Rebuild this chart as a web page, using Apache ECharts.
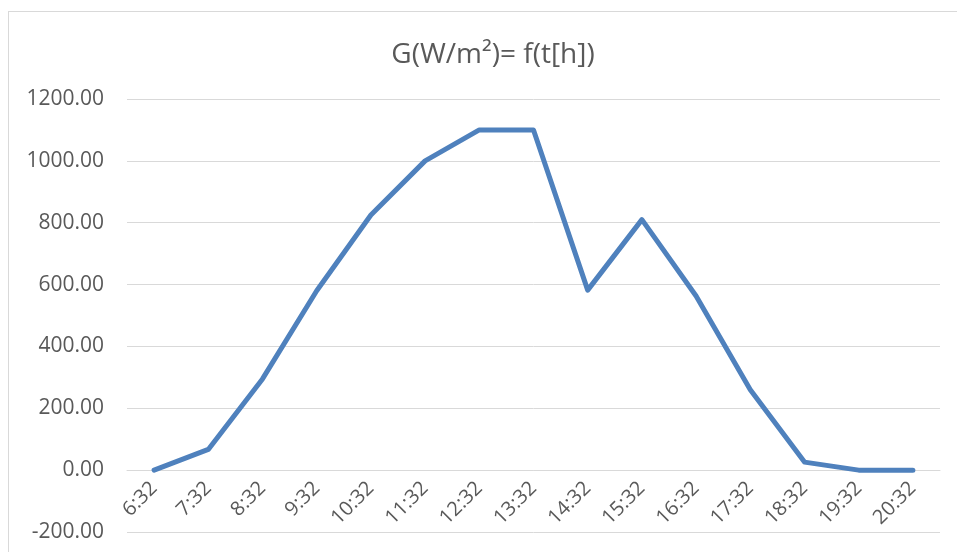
<!DOCTYPE html>
<html>
<head>
<meta charset="utf-8">
<script src="https://cdn.jsdelivr.net/npm/echarts@6/dist/echarts.min.js"></script>
<style>
  html, body { margin: 0; padding: 0; background: #fff; }
  #frame { position: absolute; left: 8px; top: 11px; width: 960px; height: 560px; border: 1px solid #d9d9d9; box-sizing: border-box; }
  #chart { position: absolute; left: 0; top: 0; width: 957px; height: 552px; }
</style>
</head>
<body>
<div id="frame"></div>
<div id="chart"></div>
<script>
// Hourly irradiance readings
const times = ['6:32', '7:32', '8:32', '9:32', '10:32', '11:32', '12:32', '13:32', '14:32', '15:32', '16:32', '17:32', '18:32', '19:32', '20:32'];
const irradiance = [0, 67, 295, 580, 825, 1000, 1100, 1100, 582, 810, 563, 260, 26, 0, 0];

const yMin = -200;
const yMax = 1200;
const yStep = 200;

const FONT = "'Open Sans', sans-serif";
const TEXT_COLOR = '#595959';

const GRID = { left: 127, right: 17, top: 99, bottom: 20 };
const CHART_H = 552;
// lift the category axis (line and labels) up to the y = 0 level
const plotH = CHART_H - GRID.top - GRID.bottom;
const zeroLift = -plotH * (0 - yMin) / (yMax - yMin);

const chart = echarts.init(document.getElementById('chart'));
chart.setOption({
  animation: false,
  title: {
    text: 'G(W/m²)= f(t[h])',
    left: 488,
    textAlign: 'center',
    top: 36,
    textStyle: { fontFamily: FONT, fontWeight: 'normal', fontSize: 28, color: TEXT_COLOR }
  },
  grid: Object.assign({ containLabel: false, outerBoundsMode: 'none' }, GRID),
  xAxis: {
    type: 'category',
    data: times,
    boundaryGap: true,
    offset: zeroLift,
    axisLine: { onZero: false, lineStyle: { color: '#d9d9d9', width: 1 } },
    axisTick: { show: false },
    axisLabel: { rotate: 45, margin: 15, fontFamily: FONT, fontSize: 20, color: TEXT_COLOR, interval: 0,
                 padding: [0, 0, 0, 0] }
  },
  yAxis: {
    type: 'value',
    min: yMin,
    max: yMax,
    interval: yStep,
    axisLine: { show: false },
    axisTick: { show: false },
    splitLine: { lineStyle: { color: '#d9d9d9', width: 1 } },
    axisLabel: { margin: 23, fontFamily: FONT, fontSize: 21, color: TEXT_COLOR, formatter: v => v.toFixed(2) }
  },
  series: [{
    type: 'line',
    data: irradiance,
    symbol: 'none',
    lineStyle: { color: '#4f81bd', width: 5, cap: 'round', join: 'round' }
  }]
});
</script>
</body>
</html>
